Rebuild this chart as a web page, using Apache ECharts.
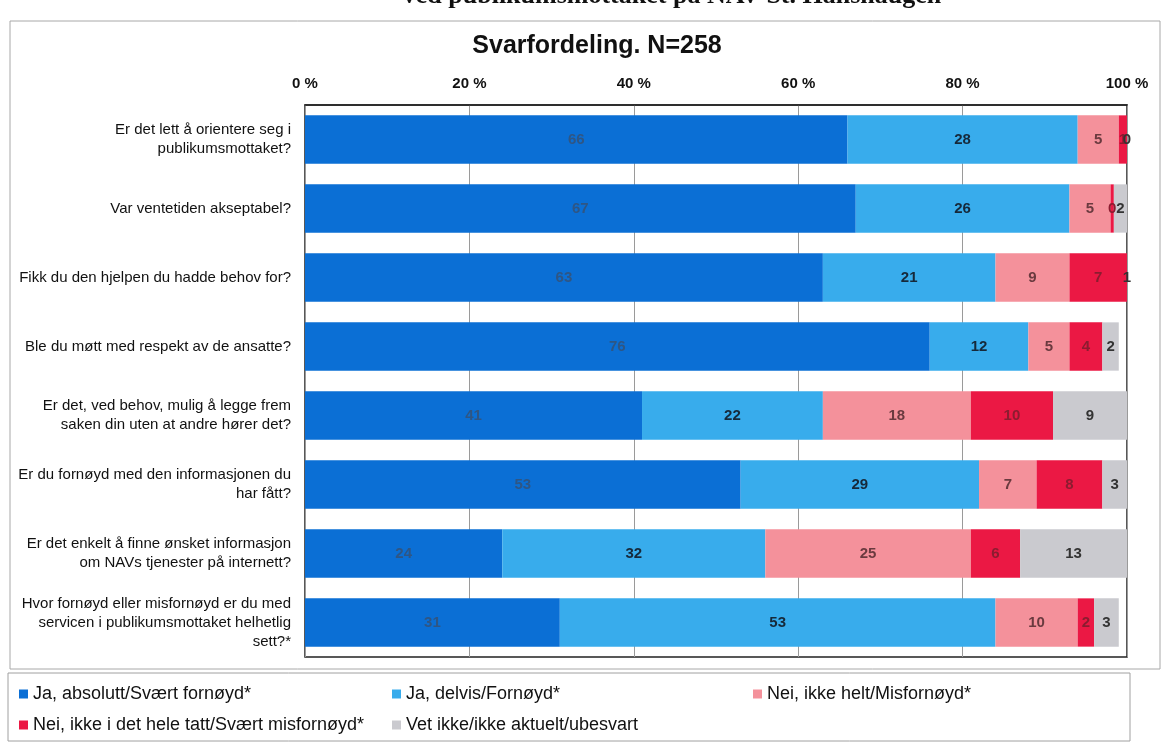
<!DOCTYPE html>
<html>
<head>
<meta charset="utf-8">
<title>Svarfordeling</title>
<style>
  html, body { margin: 0; padding: 0; background: #fff; }
  #main { width: 1163px; height: 747px; }
</style>
</head>
<body>
<div id="main"></div>
<script src="https://cdn.jsdelivr.net/npm/echarts@6.0.0/dist/echarts.min.js"></script>
<script>
// spørsmål (kategorier)
var questions = [
    'Er det lett å orientere seg i\npublikumsmottaket?',
    'Var ventetiden akseptabel?',
    'Fikk du den hjelpen du hadde behov for?',
    'Ble du møtt med respekt av de ansatte?',
    'Er det, ved behov, mulig å legge frem\nsaken din uten at andre hører det?',
    'Er du fornøyd med den informasjonen du\nhar fått?',
    'Er det enkelt å finne ønsket informasjon\nom NAVs tjenester på internett?',
    'Hvor fornøyd eller misfornøyd er du med\nservicen i publikumsmottaket helhetlig\nsett?*'
];
var tickLabels = ['0 %', '20 %', '40 %', '60 %', '80 %', '100 %'];

var names = [
    'Ja, absolutt/Svært fornøyd*',
    'Ja, delvis/Fornøyd*',
    'Nei, ikke helt/Misfornøyd*',
    'Nei, ikke i det hele tatt/Svært misfornøyd*',
    'Vet ikke/ikke aktuelt/ubesvart'
];
var jaAbsolutt = [66, 67, 63, 76, 41, 53, 24, 31];
var jaDelvis   = [28, 26, 21, 12, 22, 29, 32, 53];
var neiIkkeHelt = [5, 5, 9, 5, 18, 7, 25, 10];
var neiIkke    = [1, 0.4, 7, 4, 10, 8, 6, 2];
var vetIkke    = [0, 2, 1, 2, 9, 3, 13, 3];

var colors = ['#0b6fd5', '#38acec', '#f4919b', '#eb1844', '#cacacf'];
var labelColors = ['#2f5684', '#16293a', '#6a3a3f', '#8c1c30', '#333333'];

var myChart = echarts.init(document.getElementById('main'));

function makeSeries(i, data) {
    return {
        name: names[i],
        type: 'bar',
        stack: 'svar',
        barWidth: '70%',
        data: data,
        itemStyle: { color: colors[i] },
        label: {
            show: true,
            position: 'inside',
            color: labelColors[i],
            fontFamily: 'Liberation Sans, Arial, sans-serif',
            fontSize: 15,
            fontWeight: 'bold',
            formatter: function (p) { return Math.round(p.value); }
        }
    };
}

function legendAt(i, left, top) {
    return {
        data: [names[i]],
        left: left,
        top: top,
        icon: 'rect',
        itemWidth: 9,
        itemHeight: 9,
        itemGap: 6,
        textStyle: {
            fontFamily: 'Liberation Sans, Arial, sans-serif',
            fontSize: 18,
            color: '#111'
        }
    };
}

var option = {
    animation: false,
    color: colors,
    title: {
        text: 'Svarfordeling. N=258',
        left: 592,
        textAlign: 'center',
        top: 29,
        textStyle: {
            fontFamily: 'Liberation Sans, Arial, sans-serif',
            fontSize: 25,
            fontWeight: 'bold',
            color: '#111'
        }
    },
    legend: [
        legendAt(0, 14, 680),
        legendAt(1, 387, 680),
        legendAt(2, 748, 680),
        legendAt(3, 14, 711),
        legendAt(4, 387, 711)
    ],
    grid: {
        left: 305,
        right: 36,
        top: 105,
        bottom: 90,
        show: true,
        borderColor: '#222',
        borderWidth: 1.5
    },
    xAxis: {
        type: 'value',
        position: 'top',
        min: 0,
        max: 100,
        interval: 20,
        axisLine: { show: true, lineStyle: { color: '#222', width: 1.5 } },
        axisTick: { show: false },
        splitLine: { show: true, lineStyle: { color: '#9a9a9a', width: 1 } },
        axisLabel: {
            margin: 14,
            fontFamily: 'Liberation Sans, Arial, sans-serif',
            fontSize: 15,
            fontWeight: 'bold',
            color: '#111',
            formatter: function (v) { return tickLabels[v / 20]; }
        }
    },
    yAxis: {
        type: 'category',
        inverse: true,
        data: questions,
        axisLine: { show: false },
        axisTick: { show: false },
        axisLabel: {
            margin: 14,
            fontFamily: 'Liberation Sans, Arial, sans-serif',
            fontSize: 15,
            lineHeight: 19,
            color: '#111'
        }
    },
    graphic: [
        {
            type: 'rect',
            shape: { x: 10, y: 21, width: 1150, height: 648 },
            style: { fill: 'none', stroke: '#a8a8a8', lineWidth: 1 },
            silent: true
        },
        {
            type: 'rect',
            shape: { x: 8, y: 673, width: 1122, height: 68 },
            style: { fill: 'none', stroke: '#a0a0a0', lineWidth: 1 },
            silent: true
        },
        {
            type: 'text',
            x: 672,
            y: 9,
            style: {
                text: 'ved publikumsmottaket på NAV St. Hanshaugen',
                fontFamily: 'Liberation Serif, Times New Roman, serif',
                fontSize: 26,
                fontWeight: 'bold',
                fill: '#111',
                align: 'center',
                verticalAlign: 'bottom'
            },
            silent: true
        }
    ],
    series: [
        makeSeries(0, jaAbsolutt),
        makeSeries(1, jaDelvis),
        makeSeries(2, neiIkkeHelt),
        makeSeries(3, neiIkke),
        makeSeries(4, vetIkke)
    ]
};
myChart.setOption(option);
</script>
</body>
</html>
